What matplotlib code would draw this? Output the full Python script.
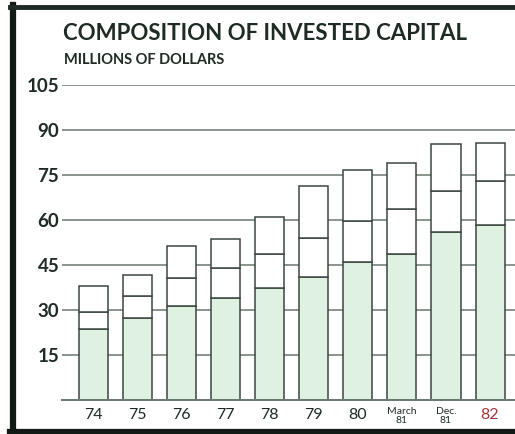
import matplotlib
matplotlib.use("Agg")
import matplotlib.pyplot as plt
from matplotlib.lines import Line2D

# values (millions of dollars, cumulative tops)
periods = ["74", "75", "76", "77", "78", "79", "80", "March\n81", "Dec.\n81", "82"]
base_part = [23.8, 27.4, 31.5, 33.9, 37.4, 41.0, 46.0, 48.6, 56.0, 58.2]
mid_top = [29.3, 34.8, 40.8, 44.0, 48.7, 54.0, 59.6, 63.7, 69.6, 73.1]
total_top = [37.9, 41.6, 51.3, 53.6, 61.0, 71.2, 76.5, 79.1, 85.3, 85.8]
y_ticks = [15, 30, 45, 60, 75, 90, 105]

ink = "#1d2b22"
grid_c = "#6a786f"
edge_c = "#3a463f"
green = "#dff2e2"

plt.rcParams['font.family'] = ['Lato', 'DejaVu Sans']

fig = plt.figure(figsize=(5.15, 4.34), dpi=100)
ax = fig.add_axes([62/515, 1-400/434, 1-62/515, (400-85)/434])

x = list(range(len(periods)))
w = 0.66
mid_h = [m - b for m, b in zip(mid_top, base_part)]
top_h = [t - m for t, m in zip(total_top, mid_top)]

for yv in y_ticks:
    ax.axhline(yv, color=grid_c, lw=1.1, zorder=1)
ax.axhline(0, color=grid_c, lw=1.4, zorder=4, clip_on=False)

ax.bar(x, base_part, w, color=green, edgecolor=edge_c, lw=1.1, zorder=2)
ax.bar(x, mid_h, w, bottom=base_part, color="white", edgecolor=edge_c, lw=1.1, zorder=2)
ax.bar(x, top_h, w, bottom=mid_top, color="white", edgecolor=edge_c, lw=1.1, zorder=2)

ax.set_xlim(-0.715, 9.566)
ax.set_ylim(0, 105)
for s in ax.spines.values():
    s.set_visible(False)
ax.set_yticks(y_ticks)
ax.set_yticklabels([str(v) for v in y_ticks], fontsize=13.5, fontweight="bold", color=ink)
ax.tick_params(axis="y", length=0, pad=2)
ax.set_xticks([])

for i, lab in enumerate(periods):
    if "\n" in lab:
        ax.text(i, -2.2, lab, ha="center", va="top", fontsize=7.5, color=ink,
                linespacing=1.1, clip_on=False)
    else:
        c = "#a8343a" if lab == "82" else ink
        ax.text(i, -2.6, lab, ha="center", va="top", fontsize=11.5, color=c,
                clip_on=False)

fig.text(63/515, 1-33/434, "COMPOSITION OF INVESTED CAPITAL", fontsize=16,
         fontweight="bold", color=ink, va="center", ha="left")
fig.text(64/515, 1-60/434, "MILLIONS OF DOLLARS", fontsize=10.5,
         fontweight="bold", color=ink, va="center", ha="left")

# page frame
fig.add_artist(Line2D([13/515, 13/515], [0, 1-5/434], transform=fig.transFigure,
                      color="#111a14", lw=4.5))
fig.add_artist(Line2D([10/515, 1], [1-7/434, 1-7/434], transform=fig.transFigure,
                      color="#1e2a24", lw=3.5))
fig.add_artist(Line2D([10/515, 1], [2.5/434, 2.5/434], transform=fig.transFigure,
                      color="#111a14", lw=4.5))

fig.savefig("out.png", dpi=100)
